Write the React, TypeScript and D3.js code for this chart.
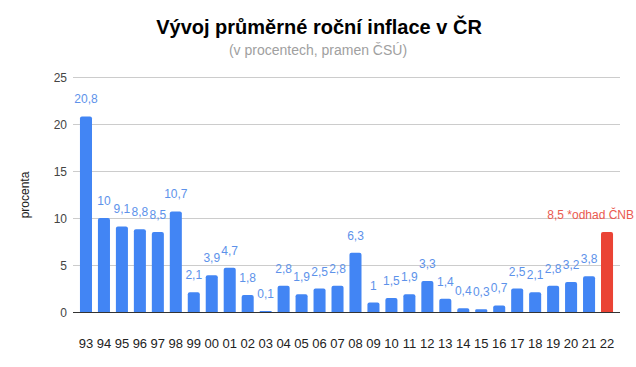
import React, { useRef, useEffect } from "react";
import * as d3 from "d3";

const years = [
  "93", "94", "95", "96", "97", "98", "99", "00", "01", "02",
  "03", "04", "05", "06", "07", "08", "09", "10", "11", "12",
  "13", "14", "15", "16", "17", "18", "19", "20", "21", "22",
];
const inflation = [
  20.8, 10, 9.1, 8.8, 8.5, 10.7, 2.1, 3.9, 4.7, 1.8,
  0.1, 2.8, 1.9, 2.5, 2.8, 6.3, 1, 1.5, 1.9, 3.3,
  1.4, 0.4, 0.3, 0.7, 2.5, 2.1, 2.8, 3.2, 3.8, 8.5,
];
const yTicks = [0, 5, 10, 15, 20, 25];
const estimateYear = "22";
const estimateNote = "*odhad ČNB";

const width = 636;
const height = 367;
const margin = { top: 77, right: 20, bottom: 55, left: 77 };
const font = "Arial, 'Liberation Sans', sans-serif";

function App() {
  const svgRef = useRef<SVGSVGElement>(null);

  useEffect(() => {
    const svg = d3.select(svgRef.current);
    svg.selectAll("*").remove();

    const x = d3
      .scaleBand<string>()
      .domain(years)
      .range([margin.left, 616])
      .paddingInner(0.33)
      .paddingOuter(0.165);
    const y = d3
      .scaleLinear()
      .domain([0, 25])
      .range([height - margin.bottom, margin.top]);

    // title
    svg
      .append("text")
      .attr("x", 319)
      .attr("y", 34)
      .attr("text-anchor", "middle")
      .attr("font-family", font)
      .attr("font-weight", "bold")
      .attr("font-size", 20)
      .attr("fill", "#000")
      .text("Vývoj průměrné roční inflace v ČR");
    svg
      .append("text")
      .attr("x", 318)
      .attr("y", 55)
      .attr("text-anchor", "middle")
      .attr("font-family", font)
      .attr("font-size", 14)
      .attr("fill", "#a0a0a0")
      .text("(v procentech, pramen ČSÚ)");

    // grid
    svg
      .append("g")
      .selectAll("line")
      .data(yTicks.filter((t) => t > 0))
      .join("line")
      .attr("x1", 73)
      .attr("x2", 620)
      .attr("y1", (d) => Math.round(y(d)) + 0.5)
      .attr("y2", (d) => Math.round(y(d)) + 0.5)
      .attr("stroke", "#cccccc");

    svg
      .append("g")
      .selectAll("text")
      .data(yTicks)
      .join("text")
      .attr("x", 67)
      .attr("y", (d) => y(d) + 4.5)
      .attr("text-anchor", "end")
      .attr("font-family", font)
      .attr("font-size", 12)
      .attr("fill", "#444")
      .text((d) => d);

    svg
      .append("text")
      .attr("transform", `translate(29,${195}) rotate(-90)`)
      .attr("text-anchor", "middle")
      .attr("font-family", font)
      .attr("font-size", 12)
      .attr("fill", "#222")
      .text("procenta");

    // bars
    const bw = x.bandwidth();
    const r = 2;
    svg
      .append("g")
      .selectAll("path")
      .data(years.map((yr, i) => ({ yr, v: inflation[i] })))
      .join("path")
      .attr("fill", (d) => (d.yr === estimateYear ? "#ea4335" : "#4285f4"))
      .attr("d", (d) => {
        const x0 = x(d.yr)!;
        const y0 = y(0);
        const y1 = y(d.v);
        const rr = Math.min(r, (y0 - y1) / 2);
        return `M${x0},${y0}V${y1 + rr}Q${x0},${y1} ${x0 + rr},${y1}H${x0 + bw - rr}Q${x0 + bw},${y1} ${x0 + bw},${y1 + rr}V${y0}Z`;
      });

    // baseline
    svg
      .append("line")
      .attr("x1", 73)
      .attr("x2", 620)
      .attr("y1", y(0) + 0.5)
      .attr("y2", y(0) + 0.5)
      .attr("stroke", "#333");

    // value labels
    svg
      .append("g")
      .selectAll("text")
      .data(years.map((yr, i) => ({ yr, v: inflation[i] })))
      .join("text")
      .attr("x", (d) =>
        d.yr === estimateYear ? 634 : x(d.yr)! + bw / 2
      )
      .attr("y", (d) => y(d.v) - 13)
      .attr("text-anchor", (d) => (d.yr === estimateYear ? "end" : "middle"))
      .attr("font-family", font)
      .attr("font-size", 12)
      .attr("fill", (d) => (d.yr === estimateYear ? "#ea5a50" : "#5d92ea"))
      .text((d) => {
        const s = String(d.v).replace(".", ",");
        return d.yr === estimateYear ? `${s} ${estimateNote}` : s;
      });

    // x labels
    svg
      .append("g")
      .selectAll("text")
      .data(years)
      .join("text")
      .attr("x", (d) => x(d)! + bw / 2)
      .attr("y", 348)
      .attr("text-anchor", "middle")
      .attr("font-family", font)
      .attr("font-size", 13)
      .attr("fill", "#222")
      .text((d) => d);
  }, []);

  return (
    <div style={{ position: "absolute", left: 0, top: 0 }}>
      <svg ref={svgRef} width={width} height={height} style={{ display: "block", background: "#fff" }} />
    </div>
  );
}

export default App;
